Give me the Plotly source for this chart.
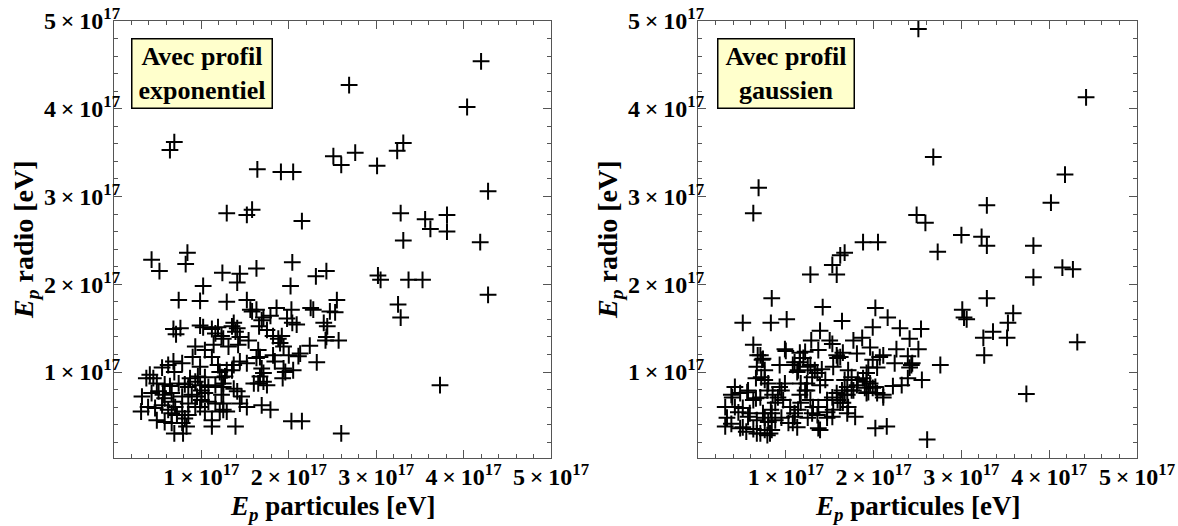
import plotly.graph_objects as go

# Values in units of 1e17 eV
SCALE = 1e17
tick_values = [1, 2, 3, 4, 5]
tick_labels = ["<b>%d\u2009×\u200910<sup>17</sup></b>" % v for v in tick_values]
x_title = "<b><i>E</i><sub><i>p</i></sub>\u00a0particules [eV]</b>"
y_title = "<b><i>E</i><sub><i>p</i></sub>\u00a0radio [eV]</b>"
box_texts = ["<b>Avec profil<br>exponentiel</b>", "<b>Avec profil<br>gaussien</b>"]

# (E_p particules, E_p radio) — profil exponentiel
exponentiel_pts = [
    (2.69, 4.27), (4.20, 4.54), (4.04, 4.02), (4.28, 3.06), (0.64, 3.53), (0.69, 3.62),
    (1.64, 3.31), (1.91, 3.28), (2.05, 3.28), (2.51, 3.46), (2.60, 3.36), (2.76, 3.50),
    (3.01, 3.35), (3.24, 3.52), (3.31, 3.61), (1.29, 2.81), (1.52, 2.79), (1.58, 2.85),
    (2.15, 2.72), (3.28, 2.81), (3.31, 2.50), (3.56, 2.74), (3.62, 2.63), (3.81, 2.79),
    (3.81, 2.60), (4.19, 2.48), (4.28, 1.88), (3.02, 2.10), (3.05, 2.05), (3.25, 1.77),
    (3.28, 1.62), (3.37, 2.05), (3.53, 2.05), (3.73, 0.85), (2.60, 0.30), (2.03, 0.44),
    (2.15, 0.44),
    (0.43, 2.28), (0.52, 2.15), (0.84, 2.36), (0.82, 2.23), (1.24, 2.13), (1.02, 1.98),
    (0.74, 1.82), (0.985, 1.81), (1.29, 1.80), (0.68, 1.49), (0.76, 1.50), (0.71, 1.43),
    (0.985, 1.53), (1.02, 1.51), (1.12, 1.49), (1.19, 1.51), (1.16, 1.44), (1.23, 1.41),
    (0.93, 1.29), (1.04, 1.25), (1.14, 1.31), (1.12, 1.17), (0.90, 1.17), (0.78, 1.10),
    (0.62, 1.08), (0.55, 1.05), (0.68, 1.12), (0.69, 1.00), (0.985, 1.06), (0.96, 0.95),
    (1.04, 0.94), (0.87, 0.93), (0.41, 0.97), (0.37, 0.93), (0.45, 0.93), (0.49, 0.87),
    (0.58, 0.86), (0.64, 0.84), (0.74, 0.87), (0.81, 0.86), (0.85, 0.83), (0.32, 0.72),
    (0.43, 0.76), (0.51, 0.78), (0.56, 0.74), (0.66, 0.76), (0.78, 0.72), (0.89, 0.74),
    (1.00, 0.79), (1.08, 0.83), (1.16, 0.85), (0.31, 0.55), (0.39, 0.60), (0.47, 0.59),
    (0.55, 0.62), (0.62, 0.57), (0.70, 0.60), (0.78, 0.55), (0.85, 0.64), (0.93, 0.60),
    (1.00, 0.68), (1.08, 0.66), (0.49, 0.45), (0.58, 0.43), (0.66, 0.42), (0.81, 0.47),
    (0.83, 0.38), (1.12, 0.45), (1.12, 0.38), (0.69, 0.30), (0.79, 0.30), (0.66, 0.53),
    (0.72, 0.51), (0.78, 0.42), (0.85, 0.51), (0.58, 0.70), (0.68, 0.66), (0.93, 0.89),
    (0.985, 0.85), (1.04, 0.76), (0.95, 0.72), (0.985, 0.60), (1.04, 0.55), (1.16, 0.64),
    (1.19, 1.08), (1.21, 1.00), (1.23, 0.94), (1.25, 0.83), (1.23, 0.74), (1.25, 0.64),
    (1.21, 0.55),
    (1.44, 2.12), (1.41, 2.02), (1.63, 2.18), (2.04, 2.25), (2.02, 1.98), (2.31, 2.09),
    (2.43, 2.15), (1.52, 1.82), (1.56, 1.71), (1.63, 1.71), (1.58, 1.69), (1.86, 1.73),
    (2.03, 1.71), (1.98, 1.61), (2.04, 1.56), (2.09, 1.54), (2.25, 1.73), (2.28, 1.71),
    (2.55, 1.82), (2.47, 1.69), (2.53, 1.68), (2.40, 1.56), (2.44, 1.52), (2.43, 1.40),
    (2.42, 1.36), (2.57, 1.36), (1.71, 1.62), (1.69, 1.59), (1.79, 1.64), (1.66, 1.52),
    (1.37, 1.56), (1.35, 1.52), (1.41, 1.50), (1.39, 1.46), (1.75, 1.48), (1.82, 1.41),
    (1.88, 1.38), (1.92, 1.41), (1.90, 1.33), (1.94, 1.29), (1.54, 1.36), (1.44, 1.40),
    (1.42, 1.31), (1.31, 1.29), (1.25, 1.38), (2.24, 1.30), (2.00, 1.19), (2.11, 1.18),
    (2.13, 1.21), (2.32, 1.11), (1.65, 1.25), (1.63, 1.16), (1.67, 1.17), (1.82, 1.19),
    (1.84, 1.12), (1.94, 1.04), (1.96, 1.00), (2.05, 1.02), (1.93, 0.93), (1.69, 1.04),
    (1.71, 0.99), (1.67, 0.95), (1.60, 0.87), (1.65, 0.87), (1.71, 0.89), (1.75, 0.85),
    (1.52, 1.10), (1.44, 1.12), (1.37, 1.08), (1.35, 1.02), (1.29, 1.02), (1.27, 0.95),
    (1.25, 0.87), (1.41, 0.78), (1.37, 0.81), (1.46, 0.72), (1.44, 0.64), (1.52, 0.60),
    (1.29, 0.55), (1.25, 0.57), (1.69, 0.62), (1.79, 0.57), (1.39, 0.38),
]

# (E_p particules, E_p radio) — profil gaussien
gaussien_pts = [
    (0.69, 3.10), (0.63, 2.81), (2.51, 4.91), (4.42, 4.13), (2.68, 3.45), (4.18, 3.25),
    (3.29, 2.90), (4.02, 2.93), (2.49, 2.79), (2.59, 2.70), (1.88, 2.48), (2.05, 2.48),
    (2.73, 2.37), (3.00, 2.56), (3.23, 2.54), (3.29, 2.44), (3.82, 2.44), (3.82, 2.08),
    (4.15, 2.19), (4.27, 2.17), (3.29, 1.84), (3.01, 1.71), (3.03, 1.62), (3.06, 1.60),
    (3.59, 1.67), (3.53, 1.56), (3.36, 1.46), (3.25, 1.39), (3.52, 1.39), (4.32, 1.34),
    (3.26, 1.19), (3.74, 0.75), (2.76, 1.08), (2.61, 0.23), (2.02, 0.36), (2.15, 0.38),
    (1.62, 2.33), (1.67, 2.36), (1.53, 2.22), (1.58, 2.11), (1.28, 2.11), (0.84, 1.84),
    (0.51, 1.56), (0.83, 1.56), (1.01, 1.60), (1.42, 1.74), (1.64, 1.58), (2.02, 1.73),
    (1.99, 1.51), (2.16, 1.62), (2.30, 1.50), (2.54, 1.49),
    (1.39, 1.47), (1.29, 1.36), (1.50, 1.36), (1.53, 1.32), (1.77, 1.36), (1.87, 1.39),
    (1.81, 1.21), (1.96, 1.28), (2.07, 1.17), (2.11, 1.19), (1.99, 1.14), (2.26, 1.26),
    (2.41, 1.38), (2.51, 1.26), (2.39, 1.18), (2.43, 1.08), (1.37, 1.25), (1.22, 1.23),
    (1.65, 1.22), (1.59, 1.16), (1.54, 1.06), (2.24, 1.10), (2.04, 1.05), (1.94, 1.05),
    (1.92, 0.99), (1.88, 0.93), (2.39, 0.93), (2.55, 0.91), (2.32, 0.85), (2.22, 0.84),
    (1.25, 1.06), (1.33, 1.02), (1.41, 1.03), (1.45, 0.91), (1.39, 0.85), (1.24, 0.87),
    (1.30, 0.94), (1.67, 0.91), (1.71, 1.02), (1.75, 0.94), (1.82, 0.91), (1.81, 0.85),
    (1.90, 0.82), (1.96, 0.87), (2.02, 0.83), (2.11, 0.74), (2.04, 0.76), (1.92, 0.76),
    (1.64, 0.79), (1.67, 0.74), (1.75, 0.79), (1.71, 0.60), (1.65, 0.65), (1.59, 0.68),
    (1.58, 0.76), (1.53, 0.71), (1.47, 0.54), (1.53, 0.49), (1.37, 0.60), (1.30, 0.53),
    (1.25, 0.48), (1.37, 0.36), (1.79, 0.49), (2.44, 1.10), (2.41, 1.05), (2.11, 0.71),
    (1.99, 0.82), (1.94, 0.77), (1.92, 0.89),
    (0.63, 1.31), (0.71, 1.19), (0.73, 1.14), (0.99, 1.26), (1.58, 1.19), (1.62, 1.17),
    (1.16, 1.11), (0.93, 1.08), (1.08, 1.08), (1.13, 1.00), (1.28, 1.08), (1.36, 0.99),
    (0.42, 0.83), (0.48, 0.76), (0.56, 0.77), (0.39, 0.71), (0.31, 0.60), (0.33, 0.48),
    (0.31, 0.38), (0.63, 0.68), (0.71, 0.71), (0.79, 0.79), (0.85, 0.74), (0.93, 0.83),
    (0.51, 0.59), (0.59, 0.53), (0.67, 0.45), (0.76, 0.48), (0.84, 0.53), (0.51, 0.37),
    (0.67, 0.30), (0.79, 0.28), (0.84, 0.34), (0.97, 0.68), (1.05, 0.60), (1.10, 0.53),
    (1.08, 0.42), (1.13, 0.37), (1.24, 0.79), (1.28, 0.68), (1.31, 0.60), (1.36, 0.51),
    (1.39, 0.34), (1.47, 0.68), (1.54, 0.57), (1.47, 0.48), (1.62, 0.65), (1.70, 0.74),
    (1.77, 0.79), (1.70, 0.53), (1.70, 0.83), (0.68, 1.19), (0.74, 1.15), (0.67, 1.06),
    (0.76, 1.02), (1.00, 1.24), (0.66, 0.93), (0.72, 0.94), (0.76, 0.91), (0.80, 0.87),
    (0.38, 0.74), (0.57, 0.79), (0.42, 0.60), (0.46, 0.54), (0.66, 0.70), (0.38, 0.41),
    (0.48, 0.36), (0.55, 0.32), (0.63, 0.35), (0.71, 0.30), (0.76, 0.34), (0.82, 0.30),
    (0.57, 0.49), (0.74, 0.53), (0.83, 0.57), (0.88, 0.65), (0.91, 0.71), (0.95, 0.79),
    (0.99, 0.87), (0.80, 0.43), (0.88, 0.45), (0.95, 0.48), (1.03, 0.42), (1.10, 0.49),
    (1.14, 0.57), (1.17, 0.65), (1.16, 0.74), (1.22, 0.79), (1.17, 0.87), (1.14, 1.02),
    (1.10, 1.11), (1.20, 1.16), (1.16, 1.22),
]

W, H = 1178, 526
FONT = "Liberation Serif"
FRAME = "#555555"

# plot-area geometry in pixels (left, right, top, bottom)
panels = [(114, 551, 21, 458), (698, 1137, 21, 458)]

fig = go.Figure()
for i, pts in enumerate([exponentiel_pts, gaussien_pts]):
    suffix = "" if i == 0 else "2"
    fig.add_trace(go.Scatter(
        x=[p[0] * SCALE for p in pts],
        y=[p[1] * SCALE for p in pts],
        mode="markers",
        marker=dict(symbol="cross-thin", size=12, color="black",
                    line=dict(width=2, color="black")),
        xaxis="x" + suffix, yaxis="y" + suffix,
        showlegend=False, hoverinfo="skip",
    ))

minor_vals = [k * 0.2 * SCALE for k in range(26)]


def axis(domain, rng, anchor, standoff):
    return dict(
        domain=domain, range=rng, anchor=anchor,
        tickmode="array", tickvals=[v * SCALE for v in tick_values], ticktext=tick_labels,
        ticks="inside", ticklen=8, tickwidth=1, tickcolor=FRAME,
        minor=dict(tickmode="array", tickvals=minor_vals, ticks="inside", ticklen=4,
                   tickwidth=1, tickcolor=FRAME, showgrid=False),
        showline=True, linecolor=FRAME, linewidth=1.3, mirror="allticks",
        showgrid=False, zeroline=False, automargin=False,
        tickfont=dict(family=FONT, size=24, color="black"),
        ticklabelstandoff=standoff,
    )


annotations = []
for i, (l, r, t, b) in enumerate(panels):
    suffix = "" if i == 0 else "2"
    xd = [l / W, r / W]
    yd = [1 - b / H, 1 - t / H]
    fig.layout["xaxis" + suffix] = axis(xd, [0, 5 * SCALE], "y" + suffix, -3)
    fig.layout["yaxis" + suffix] = axis(yd, [0.02 * SCALE, 5 * SCALE], "x" + suffix, -12)
    # axis titles
    annotations.append(dict(text=x_title, xref="paper", yref="paper",
                            x=(l + r) / 2 / W, y=1 - 508 / H, showarrow=False,
                            xanchor="center", yanchor="middle",
                            font=dict(family=FONT, size=27, color="black")))
    annotations.append(dict(text=y_title, xref="paper", yref="paper",
                            x=(l - 89) / W, y=1 - 240 / H, showarrow=False, textangle=-90,
                            xanchor="center", yanchor="middle",
                            font=dict(family=FONT, size=28, color="black")))
    # label box
    bx_l, bx_r = (130, 273) if i == 0 else (716, 855)
    annotations.append(dict(text=box_texts[i], xref="paper", yref="paper",
                            x=(bx_l + bx_r) / 2 / W, y=1 - 73.5 / H, showarrow=False,
                            xanchor="center", yanchor="middle",
                            width=bx_r - bx_l - 4, height=68,
                            bgcolor="#FFFFCC", bordercolor="black", borderwidth=1.5,
                            borderpad=0,
                            font=dict(family=FONT, size=26, color="black")))

fig.update_layout(
    width=W, height=H,
    margin=dict(l=0, r=0, t=0, b=0),
    paper_bgcolor="white", plot_bgcolor="white",
    annotations=annotations,
    showlegend=False,
)

fig.write_html("out.html", config={"displayModeBar": False},
               post_script="document.body.style.margin='0';document.body.style.overflow='hidden';")
